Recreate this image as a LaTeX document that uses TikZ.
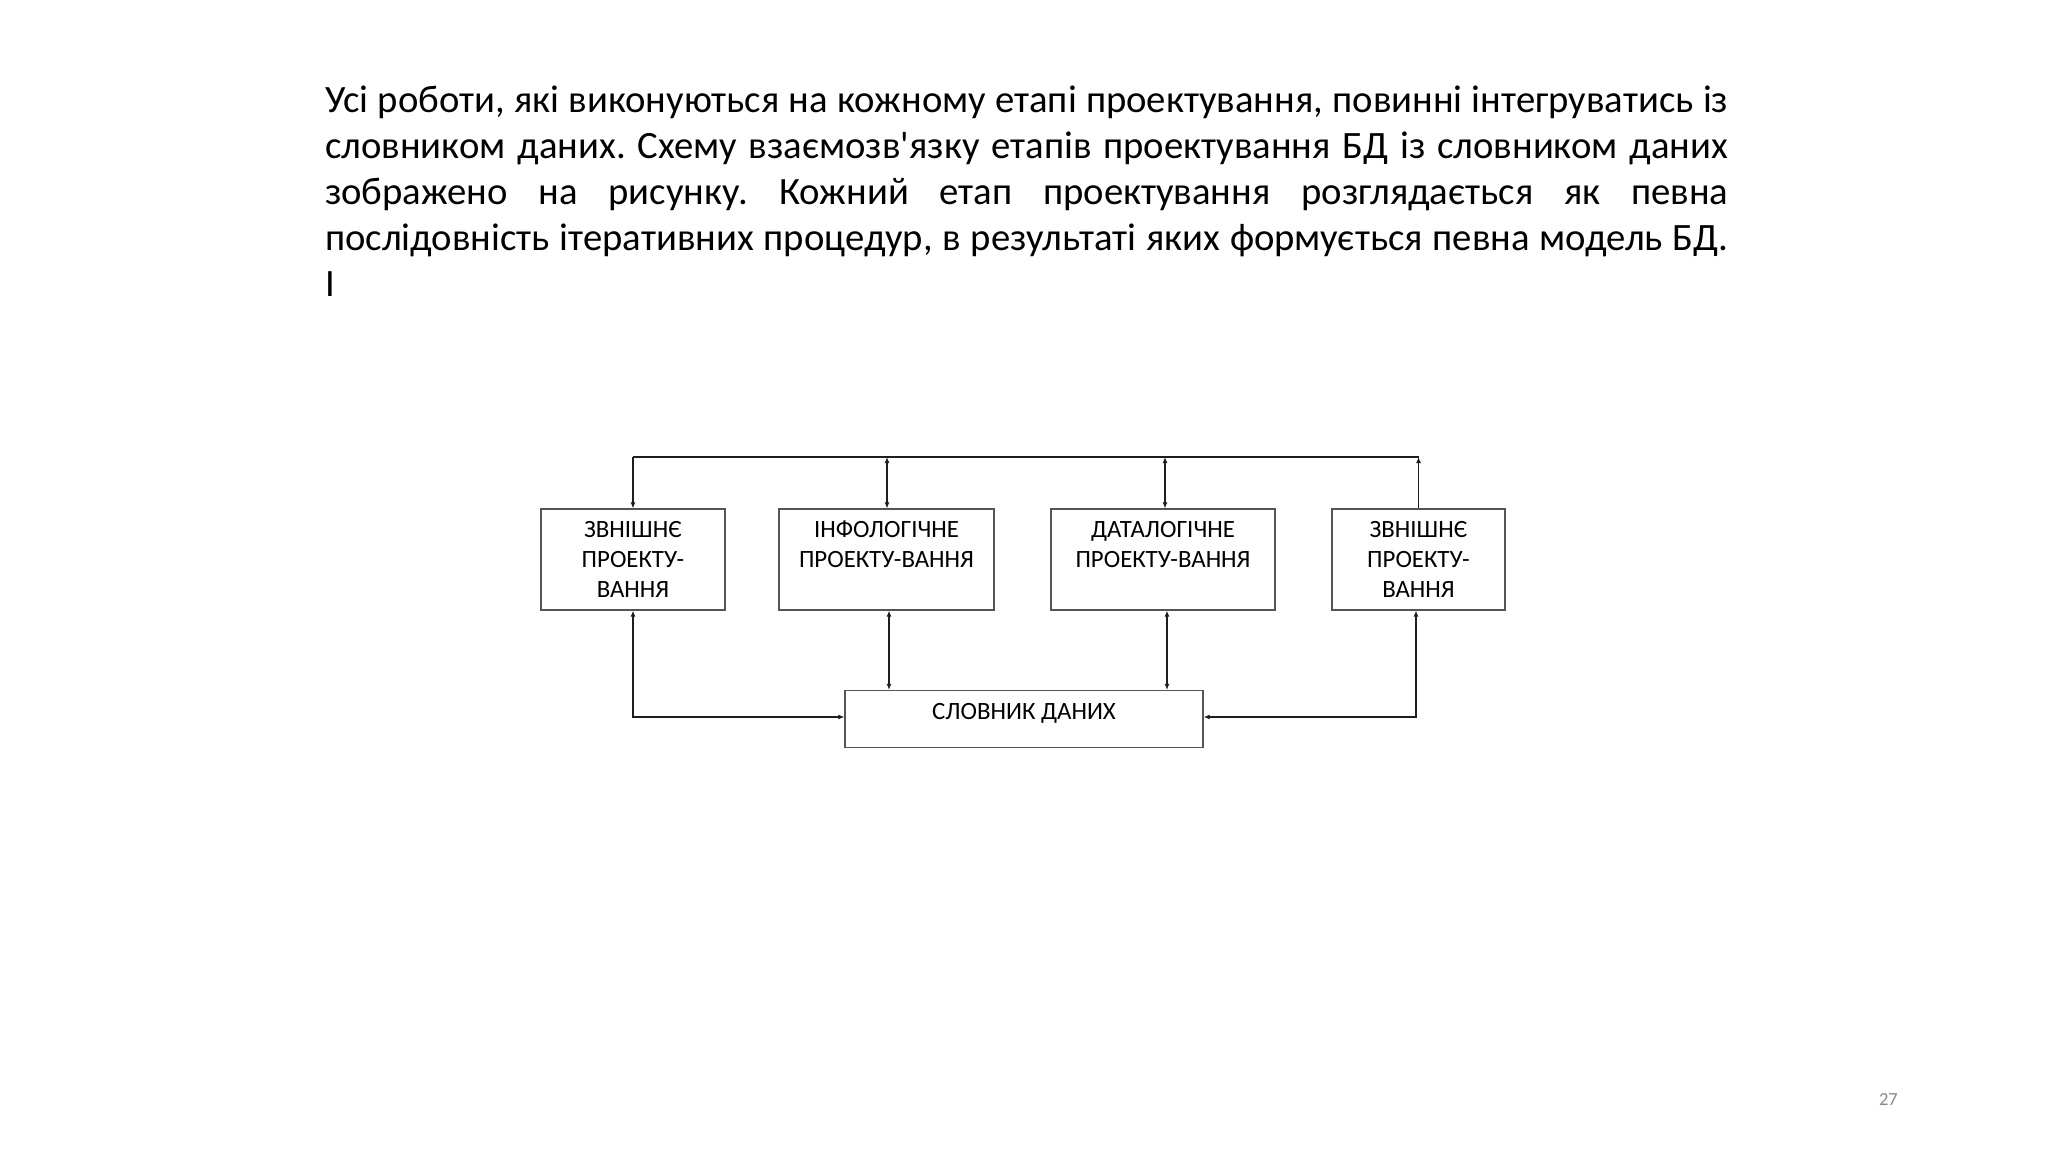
\documentclass[tikz,border=0pt]{standalone}
\usepackage{fontspec}
\setmainfont{Carlito}[Ligatures=TeXOff]
\usetikzlibrary{arrows.meta}
\definecolor{boxline}{RGB}{85,85,85}
\definecolor{conn}{RGB}{30,30,30}
\definecolor{pgnum}{RGB}{137,137,137}
\newlength\mwa\newlength\mwc\newlength\mwe
\newcommand\lineA{Усі роботи, які виконуються на кожному етапі проектування, повинні інтегруватись із}
\newcommand\lineB{словником даних. Схему взаємозв'язку етапів проектування БД із словником даних}
\newcommand\lineC{зображено на рисунку. Кожний етап проектування розглядається як певна}
\newcommand\lineD{послідовність ітеративних процедур, в результаті яких формується певна модель БД.}
\begin{document}
\frenchspacing
\fontsize{37}{46}\selectfont
\settowidth\mwa{\lineA}
\settowidth\mwc{\lineD}
\fontsize{23.5}{30}\selectfont
\settowidth\mwe{ЗВНІШНЄ}
\pgfmathsetmacro\pfs{37*(1398/max(\mwa,\mwc))}
\pgfmathsetmacro\bfs{23.5*(97.7/\mwe)}
\begin{tikzpicture}[x=1pt,y=-1pt,
  stage/.style={draw=boxline, line width=1.2pt, rectangle, align=center, inner sep=0pt,
    font=\fontsize{\bfs}{30}\selectfont, text=black},
  link/.style={draw=conn, line width=1.2pt},
  tip/.tip={Latex[length=6pt,width=5pt]}]
\useasboundingbox[fill=white] (0,0) rectangle (2048,1152);

% paragraph
\node[anchor=base west, inner sep=0pt, text=black] (txt) at (325,112) {\parbox[t]{1403pt}{\fontsize{\pfs}{46}\selectfont
\makebox[\linewidth][s]{\lineA}\\
\makebox[\linewidth][s]{\lineB}\\
\makebox[\linewidth][s]{\lineC}\\
\makebox[\linewidth][s]{\lineD}\\
І}};

% stages
\node[stage, minimum width=184pt, minimum height=101pt] (zn1) at (633,559.5) {ЗВНІШНЄ\\ПРОЕКТУ-\\ВАННЯ};
\node[stage, minimum width=215pt, minimum height=101pt] (info) at (886.5,559.5) {ІНФОЛОГІЧНЕ\\ПРОЕКТУ-ВАННЯ\\\mbox{}};
\node[stage, minimum width=224pt, minimum height=101pt] (data) at (1163,559.5) {ДАТАЛОГІЧНЕ\\ПРОЕКТУ-ВАННЯ\\\mbox{}};
\node[stage, minimum width=173pt, minimum height=101pt] (zn2) at (1418.5,559.5) {ЗВНІШНЄ\\ПРОЕКТУ-\\ВАННЯ};
\node[stage, minimum width=358pt, minimum height=57pt, text height=10pt, text depth=10pt] (dict) at (1024,719) {СЛОВНИК ДАНИХ};

% top bus
\coordinate (tl) at (633,457);
\coordinate (tr) at (1418.5,457);
\draw[link] (tl) -- (tr);
\draw[link, -tip] (tl) -- (zn1.north);
\draw[link, tip-tip] ([xshift=0.5pt]info.north |- tl) -- ([xshift=0.5pt]info.north);
\draw[link, tip-tip] ([xshift=2pt]data.north |- tl) -- ([xshift=2pt]data.north);
\draw[link, -tip] (zn2.north) -- (tr);

% links to the dictionary
\draw[link, tip-tip] ([xshift=2.5pt]info.south) -- ([xshift=2.5pt]info.south |- dict.north);
\draw[link, tip-tip] ([xshift=4pt]data.south) -- ([xshift=4pt]data.south |- dict.north);
\draw[link, tip-tip] (zn1.south) |- ([yshift=2pt]dict.west);
\draw[link, tip-tip] ([xshift=-2.5pt]zn2.south) |- ([yshift=2pt]dict.east);

% page number
\node[font=\fontsize{18.5}{22}\selectfont, text=pgnum, anchor=base east, inner sep=0pt] (pg) at (1898,1105) {27};
\end{tikzpicture}
\end{document}
